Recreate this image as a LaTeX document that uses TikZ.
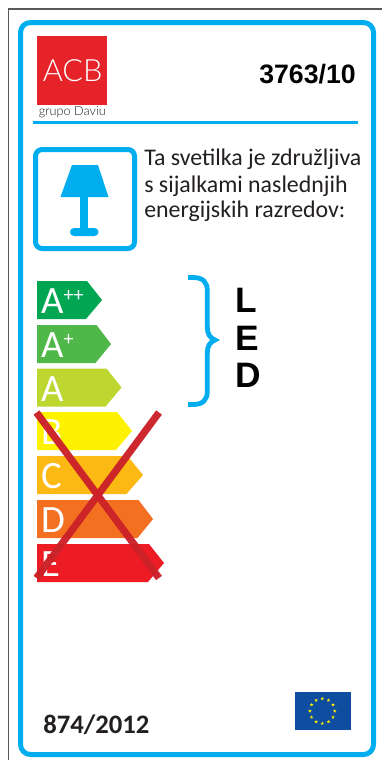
\documentclass[tikz,border=0pt]{standalone}
\usepackage{fontspec}
\usetikzlibrary{shapes.geometric}
\setmainfont{Carlito}
\newfontfamily\lib{Liberation Sans}
\newfontfamily\thin{Lato Light}
\definecolor{cy}{HTML}{00AEEF}
\definecolor{txt}{HTML}{231F20}
\definecolor{logored}{HTML}{E52329}
\definecolor{crossred}{HTML}{CC2229}
\definecolor{flagblue}{HTML}{0F4DA0}
\definecolor{flagyel}{HTML}{FFED00}
\definecolor{clapp}{HTML}{00A651}
\definecolor{clap}{HTML}{50B848}
\definecolor{cla}{HTML}{BED630}
\definecolor{clb}{HTML}{FFF200}
\definecolor{clc}{HTML}{FDB913}
\definecolor{cld}{HTML}{F37021}
\definecolor{cle}{HTML}{ED1C24}
\tikzset{
  px/.style={x=0.75pt,y=-0.75pt},
  cyline/.style={draw=cy,line width=3.75pt,line join=round},
  crossbar/.style={draw=crossred,line width=5.4pt,opacity=.97},
  klasse/.style={anchor=base west,text=white,inner sep=0pt,font=\fontsize{29}{29}\selectfont},
  ledletter/.style={anchor=base west,inner sep=0pt,text=black,font=\lib\bfseries\fontsize{26.5}{26}\selectfont},
  bodyline/.style={anchor=base west,inner sep=0pt,text=txt,font=\fontsize{17.9}{18}\selectfont},
  eustar/.style={star,star points=5,star point ratio=2.4,fill=flagyel,inner sep=0pt,minimum size=2.8pt},
}
\newcommand{\klassarrow}[6]{% name, top, shoulder, tip, fill, text
  \fill[#5] (37,#2) -- (#3,#2) -- (#4,#2+19) -- (#3-1,#2+38) -- (37,#2+38) -- cycle;
  \node[klasse] (#1) at (41,#2+32.5) {#6};
}
\begin{document}
\begin{tikzpicture}[px]
\useasboundingbox (0,0) rectangle (382,760);
\fill[white] (0,0) rectangle (382,760);
% outer thin frame
\draw[draw=black!65,line width=.9pt] (8.5,760) -- (8.5,9) -- (382,9);
% blue frame
\draw[cyline,rounded corners=7.5pt] (20.5,22.5) rectangle (373.5,754.5);
% logo
\fill[logored] (37,36) rectangle (107,105);
\node[anchor=base west,inner sep=0pt,text=white,font=\thin\fontsize{23}{23}\selectfont] (acb) at (42.5,81) {ACB};
\node[anchor=base west,inner sep=0pt,text=txt,font=\thin\fontsize{9.5}{10}\selectfont] (grupo) at (38.5,115) {grupo Daviu};
\node[anchor=base east,inner sep=0pt,text=black,font=\lib\bfseries\fontsize{20}{20}\selectfont] (code) at (356,83) {3763/10};
\draw[draw=cy,line width=2.2pt] (33,122.5) -- (358,122.5);
% lamp icon
\draw[cyline,rounded corners=5pt] (35.5,149.5) rectangle (134.5,248.5);
\fill[cy] (72,165) -- (98,165) -- (108.5,197) -- (60.5,197) -- cycle;
\fill[cy] (80,197) rectangle (88,230);
\fill[cy,rounded corners=3pt] (70,228) rectangle (98.5,236);
% text
\node[bodyline] (t1) at (144,165) {Ta svetilka je združljiva};
\node[bodyline] (t2) at (144,192) {s sijalkami naslednjih};
\node[bodyline] (t3) at (144,217.5) {energijskih razredov:};
% class arrows
\klassarrow{kapp}{281}{87}{102}{clapp}{A\raisebox{9pt}{\fontsize{15}{15}\selectfont ++}}
\klassarrow{kap}{325}{96.5}{111}{clap}{A\raisebox{9pt}{\fontsize{15}{15}\selectfont +}}
\klassarrow{ka}{368.5}{106.5}{121.5}{cla}{A}
\klassarrow{kb}{412}{117}{132}{clb}{B}
\klassarrow{kc}{456}{127.5}{143}{clc}{C}
\klassarrow{kd}{500}{138.5}{153}{cld}{D}
\klassarrow{ke}{544}{149}{164}{cle}{E}
% cross
\draw[crossbar] (36.5,412.5) -- (159,578);
\draw[crossbar] (159,412.5) -- (36.5,578);
% brace
\draw[draw=cy,line width=3.6pt] (188,277.5) -- (193,277.5)
  .. controls (203,277.5) and (207.3,282) .. (207.3,291)
  -- (207.3,327) .. controls (207.3,334) and (210,338) .. (215,340)
  .. controls (210,342) and (207.3,346) .. (207.3,353)
  -- (207.3,391) .. controls (207.3,400) and (203,404.5) .. (193,404.5)
  -- (188,404.5);
\fill[cy] (213,337) -- (219.5,340) -- (213,343) -- cycle;
% LED
\node[ledletter] (l) at (235.5,312) {L};
\node[ledletter] (e) at (235.5,350) {E};
\node[ledletter] (d) at (235.5,387) {D};
% footer
\node[anchor=base west,inner sep=0pt,text=txt,font=\bfseries\fontsize{20}{20}\selectfont] (reg) at (43,733) {874/2012};
\fill[flagblue] (294.5,692) rectangle (350.5,729.5);
\foreach \a in {0,30,...,330}
  \node[eustar] (s\a) at ({322.3+12.4*cos(\a)},{711-12.4*sin(\a)}) {};
\end{tikzpicture}
\end{document}
